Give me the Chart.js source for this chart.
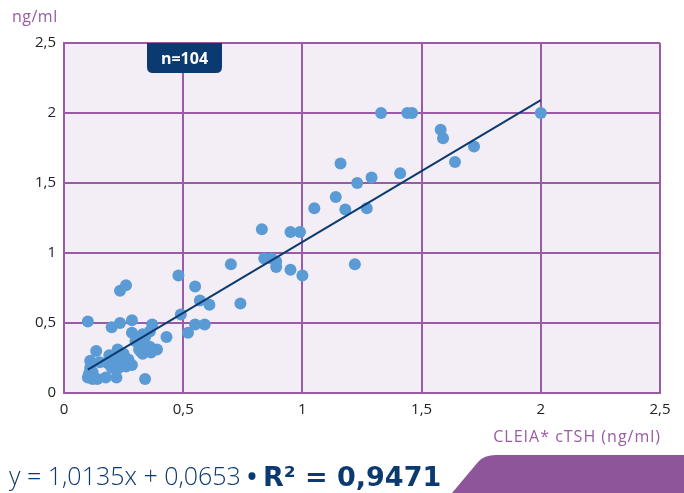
<!DOCTYPE html>
<html>
<head>
<meta charset="utf-8">
<script src="https://cdn.jsdelivr.net/npm/chart.js@4"></script>
<style>
  html, body { margin: 0; padding: 0; background: #fff; }
  #wrap { width: 684px; height: 493px; position: relative; }
</style>
</head>
<body>
<div id="wrap"><canvas id="chart" width="684" height="493"></canvas></div>
<script>
var xValues = [1.33, 1.44, 1.46, 2.0, 1.58, 1.59, 1.72, 1.64, 1.41, 1.16, 1.29, 1.23, 1.14, 1.18, 1.27, 1.05,
    0.83, 0.95, 0.99, 1.22, 0.84, 0.87, 0.89, 0.89, 0.95, 1.0,
    0.70, 0.48, 0.55, 0.57, 0.61, 0.74, 0.49, 0.55, 0.59, 0.52, 0.43,
    0.235, 0.26, 0.10, 0.20, 0.235, 0.285, 0.37, 0.285, 0.33, 0.36, 0.39, 0.365, 0.33, 0.33, 0.315,
    0.135, 0.225, 0.205, 0.24, 0.22, 0.185, 0.285, 0.11, 0.11, 0.12, 0.10, 0.12, 0.175, 0.22, 0.34,
    0.20, 0.26, 0.15, 0.19, 0.21, 0.25, 0.30, 0.34, 0.14, 0.105, 0.23, 0.27, 0.32, 0.36];
var yValues = [2.0, 2.0, 2.0, 2.0, 1.88, 1.82, 1.76, 1.65, 1.57, 1.64, 1.54, 1.50, 1.40, 1.31, 1.32, 1.32,
    1.17, 1.15, 1.15, 0.92, 0.96, 0.96, 0.94, 0.90, 0.88, 0.84,
    0.92, 0.84, 0.76, 0.66, 0.63, 0.64, 0.56, 0.49, 0.49, 0.43, 0.40,
    0.73, 0.77, 0.51, 0.47, 0.50, 0.52, 0.49, 0.43, 0.42, 0.44, 0.31, 0.29, 0.35, 0.28, 0.31,
    0.30, 0.31, 0.26, 0.25, 0.20, 0.21, 0.20, 0.23, 0.18, 0.15, 0.11, 0.10, 0.11, 0.11, 0.10,
    0.18, 0.19, 0.22, 0.27, 0.22, 0.28, 0.37, 0.40, 0.10, 0.14, 0.18, 0.24, 0.30, 0.33];

// regression line end points (y = 1,0135x + 0,0653)
var trendX = [0.1, 2.0];
var trendY = [0.167, 2.092];

var xTickLabels = ['0', '0,5', '1', '1,5', '2', '2,5'];
var yTickLabels = ['0', '0,5', '1', '1,5', '2', '2,5'];

var purple = '#9a5ba6';
var navy = '#0b3a70';
var dotBlue = '#5b9bd5';
var fontFam = '"Open Sans", "Lato", sans-serif';

var points = xValues.map(function (x, i) { return { x: x, y: yValues[i] }; });
var trend = trendX.map(function (x, i) { return { x: x, y: trendY[i] }; });

var extras = {
    id: 'extras',
    beforeDraw: function (chart) {
        var ctx = chart.ctx, a = chart.chartArea;
        ctx.save();
        ctx.fillStyle = '#f3eef5';
        ctx.fillRect(a.left, a.top, a.right - a.left, a.bottom - a.top);
        ctx.restore();
    },
    afterDraw: function (chart) {
        var ctx = chart.ctx, a = chart.chartArea;
        ctx.save();
        // n=104 badge
        var bx = 147, bw = 75, by = a.top, bh = 30, r = 6;
        ctx.fillStyle = navy;
        ctx.beginPath();
        ctx.moveTo(bx, by);
        ctx.lineTo(bx + bw, by);
        ctx.lineTo(bx + bw, by + bh - r);
        ctx.quadraticCurveTo(bx + bw, by + bh, bx + bw - r, by + bh);
        ctx.lineTo(bx + r, by + bh);
        ctx.quadraticCurveTo(bx, by + bh, bx, by + bh - r);
        ctx.closePath();
        ctx.fill();
        ctx.fillStyle = '#fff';
        ctx.font = 'bold 16px ' + fontFam;
        ctx.textAlign = 'center';
        ctx.textBaseline = 'middle';
        ctx.fillText('n=104', bx + bw / 2, by + bh / 2 + 1);

        // axis titles
        ctx.fillStyle = purple;
        ctx.font = '16px ' + fontFam;
        ctx.textAlign = 'left';
        ctx.textBaseline = 'alphabetic';
        ctx.letterSpacing = '0.5px';
        ctx.fillText('ng/ml', 12, 22);
        ctx.textAlign = 'right';
        ctx.letterSpacing = '1px';
        ctx.fillText('CLEIA* cTSH (ng/ml)', 661, 442);
        ctx.letterSpacing = '0px';

        // purple corner shape
        ctx.fillStyle = '#8f559a';
        ctx.beginPath();
        ctx.moveTo(452, 493);
        ctx.lineTo(478, 462);
        ctx.quadraticCurveTo(484, 455, 496, 455);
        ctx.lineTo(684, 455);
        ctx.lineTo(684, 493);
        ctx.closePath();
        ctx.fill();

        // equation
        ctx.fillStyle = navy;
        ctx.textAlign = 'left';
        ctx.font = '300 25px ' + fontFam;
        var eq = 'y = 1,0135x + 0,0653 ';
        ctx.fillText(eq, 9, 485);
        var w = ctx.measureText(eq).width;
        ctx.font = 'bold 25px ' + fontFam;
        ctx.fillText('\u2022', 9 + w, 485);
        ctx.font = 'bold 27px "DejaVu Sans", ' + fontFam;
        ctx.fillText('R\u00b2 = 0,9471', 263, 486);
        ctx.restore();
    }
};

new Chart(document.getElementById('chart'), {
    type: 'scatter',
    data: {
        datasets: [
            {
                type: 'line',
                data: trend,
                borderColor: navy,
                borderWidth: 2,
                pointRadius: 0,
                fill: false,
                order: 0
            },
            {
                data: points,
                backgroundColor: dotBlue,
                borderColor: dotBlue,
                pointRadius: 6,
                pointBorderWidth: 0,
                order: 1
            }
        ]
    },
    options: {
        responsive: false,
        animation: false,
        layout: { padding: { top: 43, right: 24, bottom: 70, left: 0 } },
        plugins: { legend: { display: false }, tooltip: { enabled: false } },
        scales: {
            x: {
                type: 'linear',
                min: 0, max: 2.5,
                afterFit: function (s) { s.height = 30; },
                grid: { color: purple, lineWidth: 2, drawTicks: false },
                border: { color: purple, width: 2 },
                ticks: {
                    stepSize: 0.5,
                    padding: 8,
                    color: '#222',
                    font: { family: fontFam, size: 15 },
                    callback: function (v, i) { return xTickLabels[i]; }
                }
            },
            y: {
                type: 'linear',
                min: 0, max: 2.5,
                afterFit: function (s) { s.width = 64; },
                grid: { color: purple, lineWidth: 2, drawTicks: false },
                border: { color: purple, width: 2 },
                ticks: {
                    stepSize: 0.5,
                    padding: 8,
                    color: '#222',
                    font: { family: fontFam, size: 15 },
                    callback: function (v, i) { return yTickLabels[i]; }
                }
            }
        }
    },
    plugins: [extras]
});
</script>
</body>
</html>
